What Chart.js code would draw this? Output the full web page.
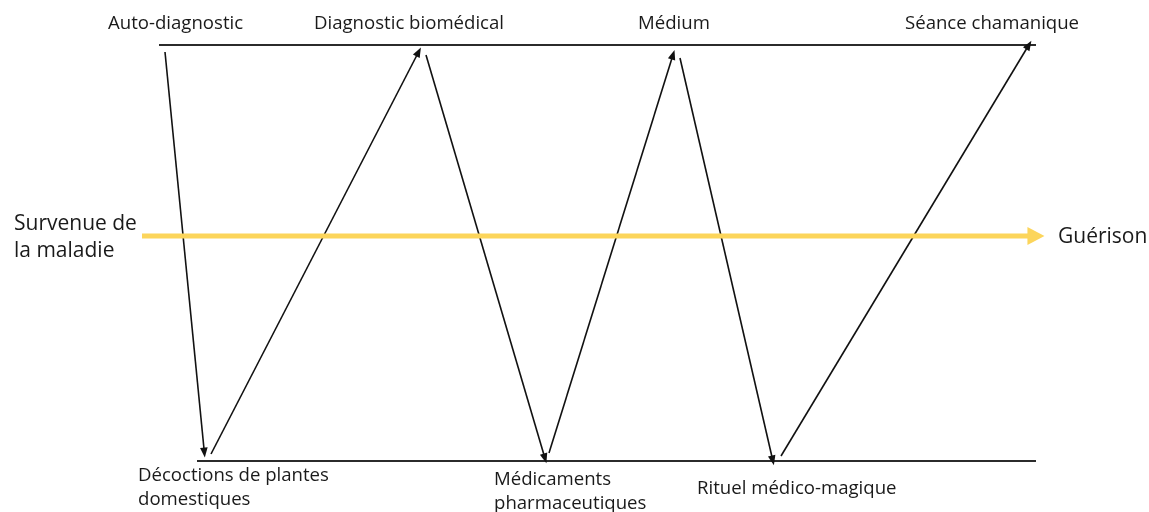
<!DOCTYPE html>
<html><head><meta charset="utf-8">
<script src="https://cdn.jsdelivr.net/npm/chart.js@4/dist/chart.umd.min.js"></script>
<style>html,body{margin:0;padding:0;background:#fff;}canvas{display:block;}</style>
</head><body>
<canvas id="c" width="1149" height="512"></canvas>
<script>
// Stages (categories)
const topStages = ['Auto-diagnostic', 'Diagnostic biomédical', 'Médium', 'Séance chamanique'];
const bottomStages = [['Décoctions de plantes', 'domestiques'], ['Médicaments', 'pharmaceutiques'], ['Rituel médico-magique']];
const startLabel = ['Survenue de', 'la maladie'];
const endLabel = ['Guérison'];

// Zigzag path: start/end of each arrow (x, y in diagram units)
const arrowStartX = [165, 211, 426, 549, 680, 781];
const arrowStartY = [52, 454, 55, 453, 58, 456];
const arrowEndX   = [204, 417, 544, 672, 772, 1027];
const arrowEndY   = [449, 55, 455, 58, 457, 48];

// Horizontal levels
const topLevelX = [159, 1036];
const topLevelY = [45, 45];
const bottomLevelX = [197, 1036];
const bottomLevelY = [461, 461];
const timelineX = [142, 1030];
const timelineY = [236, 236];

// Label anchors (left x, center y)
const topLabelPos = [[108, 24], [314, 24], [638, 24], [905, 24]];
const bottomLabelPos = [[138, 476], [494, 480], [697, 489]];

const datasets = [];
datasets.push({data: topLevelX.map((x,i)=>({x, y: topLevelY[i]})), borderColor:'#2b2b2b', borderWidth:2, arrow:false});
datasets.push({data: bottomLevelX.map((x,i)=>({x, y: bottomLevelY[i]})), borderColor:'#2b2b2b', borderWidth:2, arrow:false});
datasets.push({data: timelineX.map((x,i)=>({x, y: timelineY[i]})), borderColor:'#FCD55B', borderWidth:5, arrow:{len:17, half:9}});
arrowStartX.forEach((sx,i)=>{
  datasets.push({data:[{x:sx,y:arrowStartY[i]},{x:arrowEndX[i],y:arrowEndY[i]}], borderColor:'#111', borderWidth:1.6, arrow:{len:10, half:3.8}});
});
datasets.forEach(d=>{d.showLine=true; d.pointRadius=0; d.fill=false; d.tension=0;});

const arrowPlugin = {
  id:'arrows',
  afterDatasetsDraw(chart){
    const ctx = chart.ctx, xs = chart.scales.x, ys = chart.scales.y;
    chart.data.datasets.forEach(ds=>{
      if(!ds.arrow) return;
      const n = ds.data.length;
      const p1 = ds.data[n-2], p2 = ds.data[n-1];
      const x1 = xs.getPixelForValue(p1.x), y1 = ys.getPixelForValue(p1.y);
      const x2 = xs.getPixelForValue(p2.x), y2 = ys.getPixelForValue(p2.y);
      const a = Math.atan2(y2-y1, x2-x1);
      const L = ds.arrow.len, H = ds.arrow.half;
      const tipx = x2 + Math.cos(a)*L*0.85, tipy = y2 + Math.sin(a)*L*0.85;
      const bx = tipx - Math.cos(a)*L, by = tipy - Math.sin(a)*L;
      ctx.save();
      ctx.fillStyle = ds.borderColor;
      ctx.beginPath();
      ctx.moveTo(tipx, tipy);
      ctx.lineTo(bx - Math.sin(a)*H, by + Math.cos(a)*H);
      ctx.lineTo(bx + Math.sin(a)*H, by - Math.cos(a)*H);
      ctx.closePath();
      ctx.fill();
      ctx.restore();
    });
  }
};

const labelPlugin = {
  id:'labels',
  afterDraw(chart){
    const ctx = chart.ctx, xs = chart.scales.x, ys = chart.scales.y;
    ctx.save();
    ctx.fillStyle = '#1a1a1a';
    ctx.textBaseline = 'middle';
    ctx.textAlign = 'left';
    const fam = '"Open Sans", Lato, sans-serif';
    ctx.font = '18.6px ' + fam;
    topStages.forEach((t,i)=>{
      ctx.fillText(t, xs.getPixelForValue(topLabelPos[i][0]), ys.getPixelForValue(topLabelPos[i][1]));
    });
    bottomStages.forEach((lines,i)=>{
      lines.forEach((t,j)=>{
        ctx.fillText(t, xs.getPixelForValue(bottomLabelPos[i][0]), ys.getPixelForValue(bottomLabelPos[i][1] + j*24));
      });
    });
    ctx.font = '21px ' + fam;
    startLabel.forEach((t,j)=>ctx.fillText(t, xs.getPixelForValue(14), ys.getPixelForValue(224 + j*27)));
    endLabel.forEach((t)=>ctx.fillText(t, xs.getPixelForValue(1058), ys.getPixelForValue(237)));
    ctx.restore();
  }
};

new Chart(document.getElementById('c'), {
  type:'scatter',
  data:{datasets},
  options:{
    responsive:false, animation:false,
    layout:{padding:0},
    plugins:{legend:{display:false}, tooltip:{enabled:false}},
    scales:{
      x:{type:'linear', min:0, max:1149, display:false},
      y:{type:'linear', min:0, max:512, reverse:true, display:false}
    }
  },
  plugins:[arrowPlugin, labelPlugin]
});
</script>
</body></html>
